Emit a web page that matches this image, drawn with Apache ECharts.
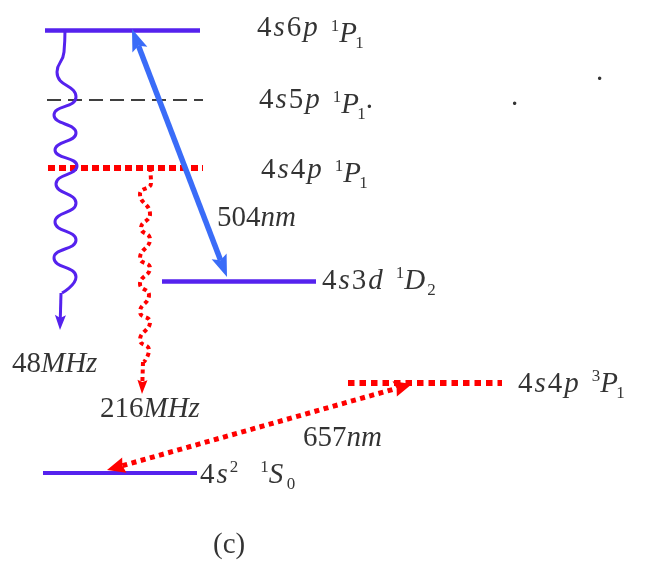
<!DOCTYPE html>
<html><head><meta charset="utf-8">
<script src="https://cdn.jsdelivr.net/npm/echarts@6/dist/echarts.min.js"></script>
<style>html,body{margin:0;padding:0;background:#fff}#c{width:645px;height:567px}</style>
</head><body><div id="c"></div>
<script>
// ---- data (diagram coordinates) ----
const levelNames = ['4s6p 1P1', '4s5p 1P1', '4s4p 1P1', '4s3d 1D2', '4s4p 3P1', '4s2 1S0'];
const levelY = [30, 100, 168, 281, 383, 473];
const levelXStart = [45, 47, 48, 162, 348, 43];
const levelXEnd = [200, 203, 203, 316, 502, 197];
const levelConfigRich = ['{en|4}{ei|s}{en|6}{ei|p}', '{en|4}{ei|s}{en|5}{ei|p}', '{en|4}{ei|s}{en|4}{ei|p}', '{en|4}{ei|s}{en|3}{ei|d}', '{en|4}{ei|s}{en|4}{ei|p}', '{en|4}{ei|s}{sup0|2}{g| }'];
const levelMult = ['1', '1', '1', '1', '3', '1'];
const levelL = ['P', 'P', 'P', 'D', 'P', 'S'];
const levelJ = ['1', '1', '1', '2', '1', '0'];
const levelSuffix = ['', '{n|.}', '', '', '', ''];
const levelLabelX = [257, 259, 261, 322, 518, 200];
const levelLabelY = [27, 99, 169, 280, 383, 474];

const transLabels = ['{n|504}{i|nm}', '{n|48}{i|MHz}', '{n|216}{i|MHz}', '{n|657}{i|nm}', '{n|(c)}', '{n|.}', '{n|.}'];
const transLabelX = [217, 12, 100, 303, 213, 511, 596];
const transLabelY = [217, 363, 408, 437, 544, 96, 71];

// straight arrows
const arrowStartX = [227, 107, 61, 143];
const arrowStartY = [277, 470, 293, 362];
const arrowEndX = [132, 412, 60, 142];
const arrowEndY = [29, 384, 330, 394];
const arrowDouble = [1, 1, 0, 0];

// wavy decay lines (peaks)
const purpleWaveX = [65, 64, 57, 76, 54, 76, 55, 77, 56, 76, 55, 76, 54, 76, 62];
const purpleWaveY = [30, 52, 72, 97, 115, 133, 150, 166, 184, 203, 222, 240, 258, 277, 293];
const redWaveX = [150, 151, 140, 150, 141, 150, 140, 150, 140, 149, 140, 150, 140, 149, 144];
const redWaveY = [168, 183, 194, 214, 228, 239, 258, 268, 284, 295, 312, 322, 340, 350, 362];

// ---- styles ----
const PURPLE = '#5522ee', RED = '#ff0000', BLUE = '#3a6cf8';
const LABEL_DY = 13;
const levelStyles = [
  {color: PURPLE, width: 4.5, type: 'solid'},
  {color: '#000', width: 1.5, type: [14, 7]},
  {color: RED, width: 6, type: [7, 4], cap: 'butt'},
  {color: PURPLE, width: 4.5, type: 'solid'},
  {color: RED, width: 6, type: [6.5, 5], cap: 'butt'},
  {color: PURPLE, width: 4, type: 'solid'}
];
const labelShift = [6, 5, 4, 0, 0, 0];
const letterWidth = {P: 16, D: 23, S: 18};
const arrowStyles = [
  {color: BLUE, width: 5.5, dash: null, len: 22, half: 8, notch: 4},
  {color: RED, width: 5, dash: [5, 4.5], len: 18, half: 8, notch: 2},
  {color: PURPLE, width: 3, dash: null, len: 15, half: 5.5, notch: 3},
  {color: RED, width: 4, dash: [4, 3.5], len: 14, half: 5, notch: 2}
];

const FONT = '"Liberation Serif", "Times New Roman", serif';
const base = {fontFamily: FONT, fontSize: 29, lineHeight: 29, color: '#000', padding: [12, 0, 12, 0], verticalAlign: 'bottom'};
const rich = {
  n: Object.assign({}, base),
  i: Object.assign({}, base, {fontStyle: 'italic'}),
  en: Object.assign({}, base, {padding: [12, 2, 12, 0]}),
  ei: Object.assign({}, base, {fontStyle: 'italic', padding: [12, 2, 12, 0]}),
  g: {fontFamily: FONT, fontSize: 15, lineHeight: 15, width: 11, verticalAlign: 'bottom'}
};
[0, 4, 5, 6].forEach(s => {
  rich['sup' + s] = {fontFamily: FONT, fontSize: 17, lineHeight: 17, color: '#000', padding: [0, 0, 25 - s, 0], verticalAlign: 'bottom'};
  rich['sub' + s] = {fontFamily: FONT, fontSize: 17, lineHeight: 17, color: '#000', padding: [0, 0, 8 - s, 0], verticalAlign: 'bottom'};
  Object.keys(letterWidth).forEach(ch => {
    rich['L' + ch + s] = {fontFamily: FONT, fontSize: 29, lineHeight: 29, fontStyle: 'italic', color: '#000', width: letterWidth[ch], padding: [12 + s, 0, 12 - s, 0], verticalAlign: 'bottom'};
  });
});

const levelLabelData = levelNames.map((name, k) => {
  const s = labelShift[k];
  const txt = levelConfigRich[k] + '{g| }{sup' + s + '|' + levelMult[k] + '}{L' + levelL[k] + s + '|' + levelL[k] + '}{sub' + s + '|' + levelJ[k] + '}' + levelSuffix[k];
  return {name: name, value: [levelLabelX[k], levelLabelY[k] + LABEL_DY], label: {formatter: txt}};
});
const otherLabelData = transLabels.map((t, k) => ({value: [transLabelX[k], transLabelY[k] + LABEL_DY], label: {formatter: t}}));

const levelLines = levelNames.map((name, k) => ({
  name: name,
  coords: [[levelXStart[k], levelY[k]], [levelXEnd[k], levelY[k]]],
  lineStyle: Object.assign({opacity: 1}, levelStyles[k])
}));

const arrowData = arrowStartX.map((x, k) => [x, arrowStartY[k], arrowEndX[k], arrowEndY[k], arrowDouble[k]]);

function head(tip, d, st) {
  const nx = -d[1], ny = d[0];
  const bx = tip[0] - d[0] * st.len, by = tip[1] - d[1] * st.len;
  return [tip, [bx + nx * st.half, by + ny * st.half], [bx + d[0] * st.notch, by + d[1] * st.notch], [bx - nx * st.half, by - ny * st.half]];
}

const chart = echarts.init(document.getElementById('c'), null, {renderer: 'canvas'});
chart.setOption({
  animation: false,
  backgroundColor: '#fff',
  grid: {left: 0, right: 0, top: 0, bottom: 0},
  xAxis: {type: 'value', min: 0, max: 645, show: false},
  yAxis: {type: 'value', min: 0, max: 567, inverse: true, show: false},
  series: [
    {
      type: 'lines', coordinateSystem: 'cartesian2d', silent: true,
      data: levelLines, symbol: ['none', 'none']
    },
    {
      type: 'line', silent: true, showSymbol: false, symbol: 'none', smooth: 0.55, clip: false,
      data: purpleWaveX.map((x, k) => [x, purpleWaveY[k]]),
      lineStyle: {color: PURPLE, width: 3}
    },
    {
      type: 'line', silent: true, showSymbol: false, symbol: 'none', smooth: 0.55, clip: false,
      data: redWaveX.map((x, k) => [x, redWaveY[k]]),
      lineStyle: {color: RED, width: 4, type: [4, 3.5], cap: 'butt'}
    },
    {
      type: 'custom', coordinateSystem: 'cartesian2d', silent: true, clip: false,
      encode: {x: [0, 2], y: [1, 3]},
      data: arrowData,
      renderItem: function (params, api) {
        const st = arrowStyles[params.dataIndex];
        const p1 = api.coord([api.value(0), api.value(1)]);
        const p2 = api.coord([api.value(2), api.value(3)]);
        const dx = p2[0] - p1[0], dy = p2[1] - p1[1];
        const L = Math.sqrt(dx * dx + dy * dy);
        const d = [dx / L, dy / L];
        const back = st.len - st.notch;
        const dbl = api.value(4) === 1;
        const s1 = dbl ? [p1[0] + d[0] * back, p1[1] + d[1] * back] : p1;
        const s2 = [p2[0] - d[0] * back, p2[1] - d[1] * back];
        const lineStyle = {stroke: st.color, lineWidth: st.width, fill: null, lineCap: 'butt'};
        if (st.dash) lineStyle.lineDash = st.dash;
        const children = [
          {type: 'line', shape: {x1: s1[0], y1: s1[1], x2: s2[0], y2: s2[1]}, style: lineStyle},
          {type: 'polygon', shape: {points: head(p2, d, st)}, style: {fill: st.color}}
        ];
        if (dbl) children.push({type: 'polygon', shape: {points: head(p1, [-d[0], -d[1]], st)}, style: {fill: st.color}});
        return {type: 'group', children: children};
      }
    },
    {
      type: 'scatter', silent: true, symbolSize: 0, clip: false,
      data: levelLabelData.concat(otherLabelData),
      label: {show: true, position: 'right', distance: 0, rich: rich}
    }
  ]
});
</script></body></html>
